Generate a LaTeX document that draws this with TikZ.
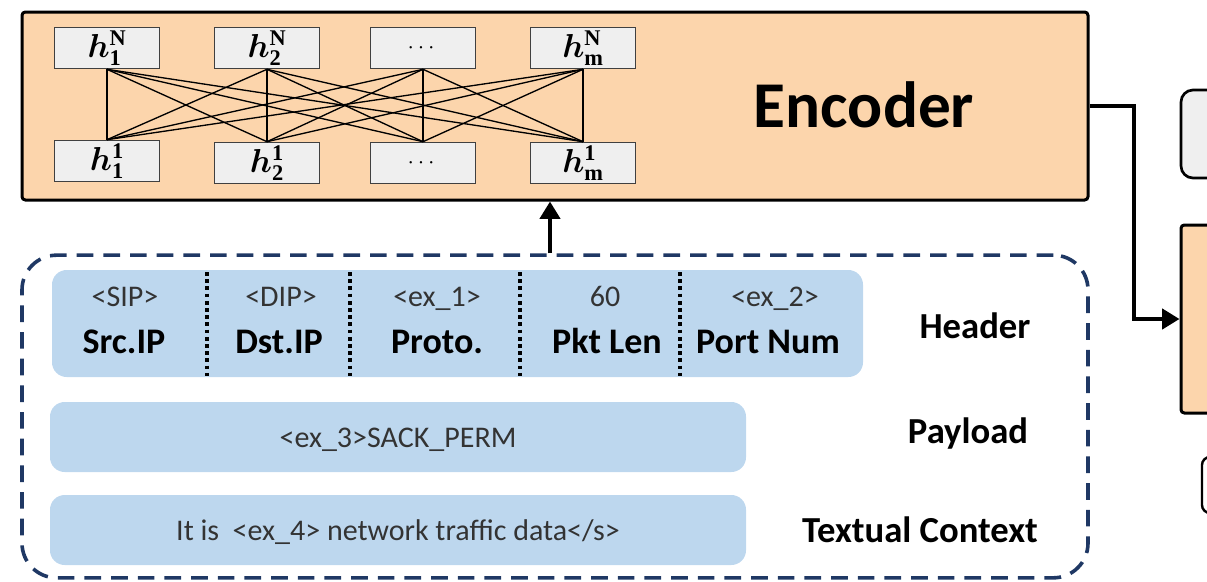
\documentclass[tikz,border=0pt]{standalone}
\usepackage{amsmath}
\usepackage{fontspec}
\usepackage{bm}
\setmainfont{Carlito}
\newfontfamily\idxfont{Liberation Serif}
\usetikzlibrary{arrows.meta}

\definecolor{peach}{HTML}{FCD5AC}
\definecolor{paleblue}{HTML}{BDD7EE}
\definecolor{navy}{HTML}{1F3864}
\definecolor{cellgray}{HTML}{EFEFEF}
\definecolor{cellline}{HTML}{404040}
\definecolor{softtext}{HTML}{333333}

% hidden state h with layer index (upper) and position index (lower)
\newcommand{\hstate}[2]{$\bm{h}^{\text{\idxfont\bfseries #1}}_{\text{\idxfont\bfseries #2}}$}

\tikzset{
  hcell/.style={draw=cellline, line width=1.2pt, fill=cellgray, inner sep=0pt,
    minimum width=78.75pt, minimum height=30.75pt, font=\fontsize{24}{26}\selectfont},
  blockbox/.style={draw=black, line width=2.25pt, fill=peach, inner sep=0pt, rounded corners=2.5pt},
  tokenrow/.style={fill=paleblue, inner sep=0pt, rounded corners=11pt},
  sep/.style={line width=2.8pt, dash pattern=on 2.8pt off 2.6pt},
  small/.style={font=\fontsize{22.5}{26}\selectfont, text=softtext, anchor=base},
  field/.style={font=\fontsize{27}{31}\bfseries\selectfont, anchor=base},
  tag/.style={font=\fontsize{27.5}{31}\bfseries\selectfont, anchor=base},
  flow/.style={line width=3pt, -{Triangle[width=15pt,length=13pt]}},
}

\begin{document}
\begin{tikzpicture}[x=0.75pt, y=-0.75pt]
\useasboundingbox (0,0) rectangle (1207,582);
\begin{scope}
\clip (0,0) rectangle (1207,582);

% encoder block and the boxes to its right
\node[blockbox, minimum width=799.5pt, minimum height=141pt] (enc) at (555,106) {};
\node[font=\fontsize{49}{56}\bfseries\selectfont, anchor=base] (enctitle) at (864,127) {Encoder};
\node[draw=black, line width=2pt, fill=cellgray, rounded corners=9pt, inner sep=0pt,
  minimum width=45pt, minimum height=66pt] (rgray) at (1211,134) {};
\node[blockbox, minimum width=45pt, minimum height=141pt] (rpeach) at (1211,319) {};
\node[draw=black, line width=1.8pt, fill=white, rounded corners=6pt, inner sep=0pt,
  minimum width=36pt, minimum height=42pt] (rsmall) at (1226,485) {};

% hidden-state cells
\node[hcell] (t1) at (107,48) {\hstate{N}{1}};
\node[hcell] (t2) at (267,48) {\hstate{N}{2}};
\node[hcell] (t3) at (423,48) {\fontsize{18}{20}\selectfont\textbf{$\cdots$}};
\node[hcell] (t4) at (583,48) {\hstate{N}{m}};
\node[hcell] (b1) at (107,161) {\hstate{1}{1}};
\node[hcell] (b2) at (267,163) {\hstate{1}{2}};
\node[hcell] (b3) at (423,163) {\fontsize{18}{20}\selectfont\textbf{$\cdots$}};
\node[hcell] (b4) at (583,163) {\hstate{1}{m}};
\foreach \i in {1,...,4}
  \foreach \j in {1,...,4}
    \draw[line width=1pt] (t\i.south) -- (b\j.north);

% input sequence group
\node[draw=navy, line width=2.7pt, dash pattern=on 12.5pt off 7.5pt, rounded corners=26pt,
  inner sep=0pt, minimum width=799.5pt, minimum height=242pt] (group) at (555,416.5) {};

% header fields
\node[tokenrow, minimum width=608.25pt, minimum height=80.25pt] (header) at (457.5,323.5) {};
\foreach \x in {207,350,520,680}
  \draw[sep] (\x,272) -- (\x,376);
\node[small] (s1) at (125,306) {<SIP>};
\node[small] (s2) at (281,306) {<DIP>};
\node[small] (s3) at (437,306) {<ex\_1>};
\node[small] (s4) at (605,306) {60};
\node[small] (s5) at (775,306) {<ex\_2>};
\node[field] (f1) at (124,353) {Src.IP};
\node[field] (f2) at (279,353) {Dst.IP};
\node[field] (f3) at (437,353) {Proto.};
\node[field] (f4) at (607,353) {Pkt Len};
\node[field] (f5) at (768,353) {Port Num};
\node[tag] (lh) at (975,338) {Header};

% payload
\node[tokenrow, minimum width=522pt, minimum height=52.5pt] (payload) at (398,437) {};
\node[small] (ptxt) at (398,447) {<ex\_3>SACK\_PERM};
\node[tag] (lp) at (968,443) {Payload};

% textual context
\node[tokenrow, minimum width=522pt, minimum height=52.5pt] (context) at (398,530) {};
\node[small] (ctxt) at (398,540) {It is \ <ex\_4> network traffic data</s>};
\node[tag] (lc) at (920,542) {Textual Context};

% connectors
\coordinate (upx) at (550,0);
\coordinate (elbow) at (1134,0);
\draw[flow] (group.north -| upx) -- (enc.south -| upx);
\draw[flow] (enc.east) -- (enc.east -| elbow) |- (rpeach.west);
\end{scope}
\end{tikzpicture}
\end{document}
